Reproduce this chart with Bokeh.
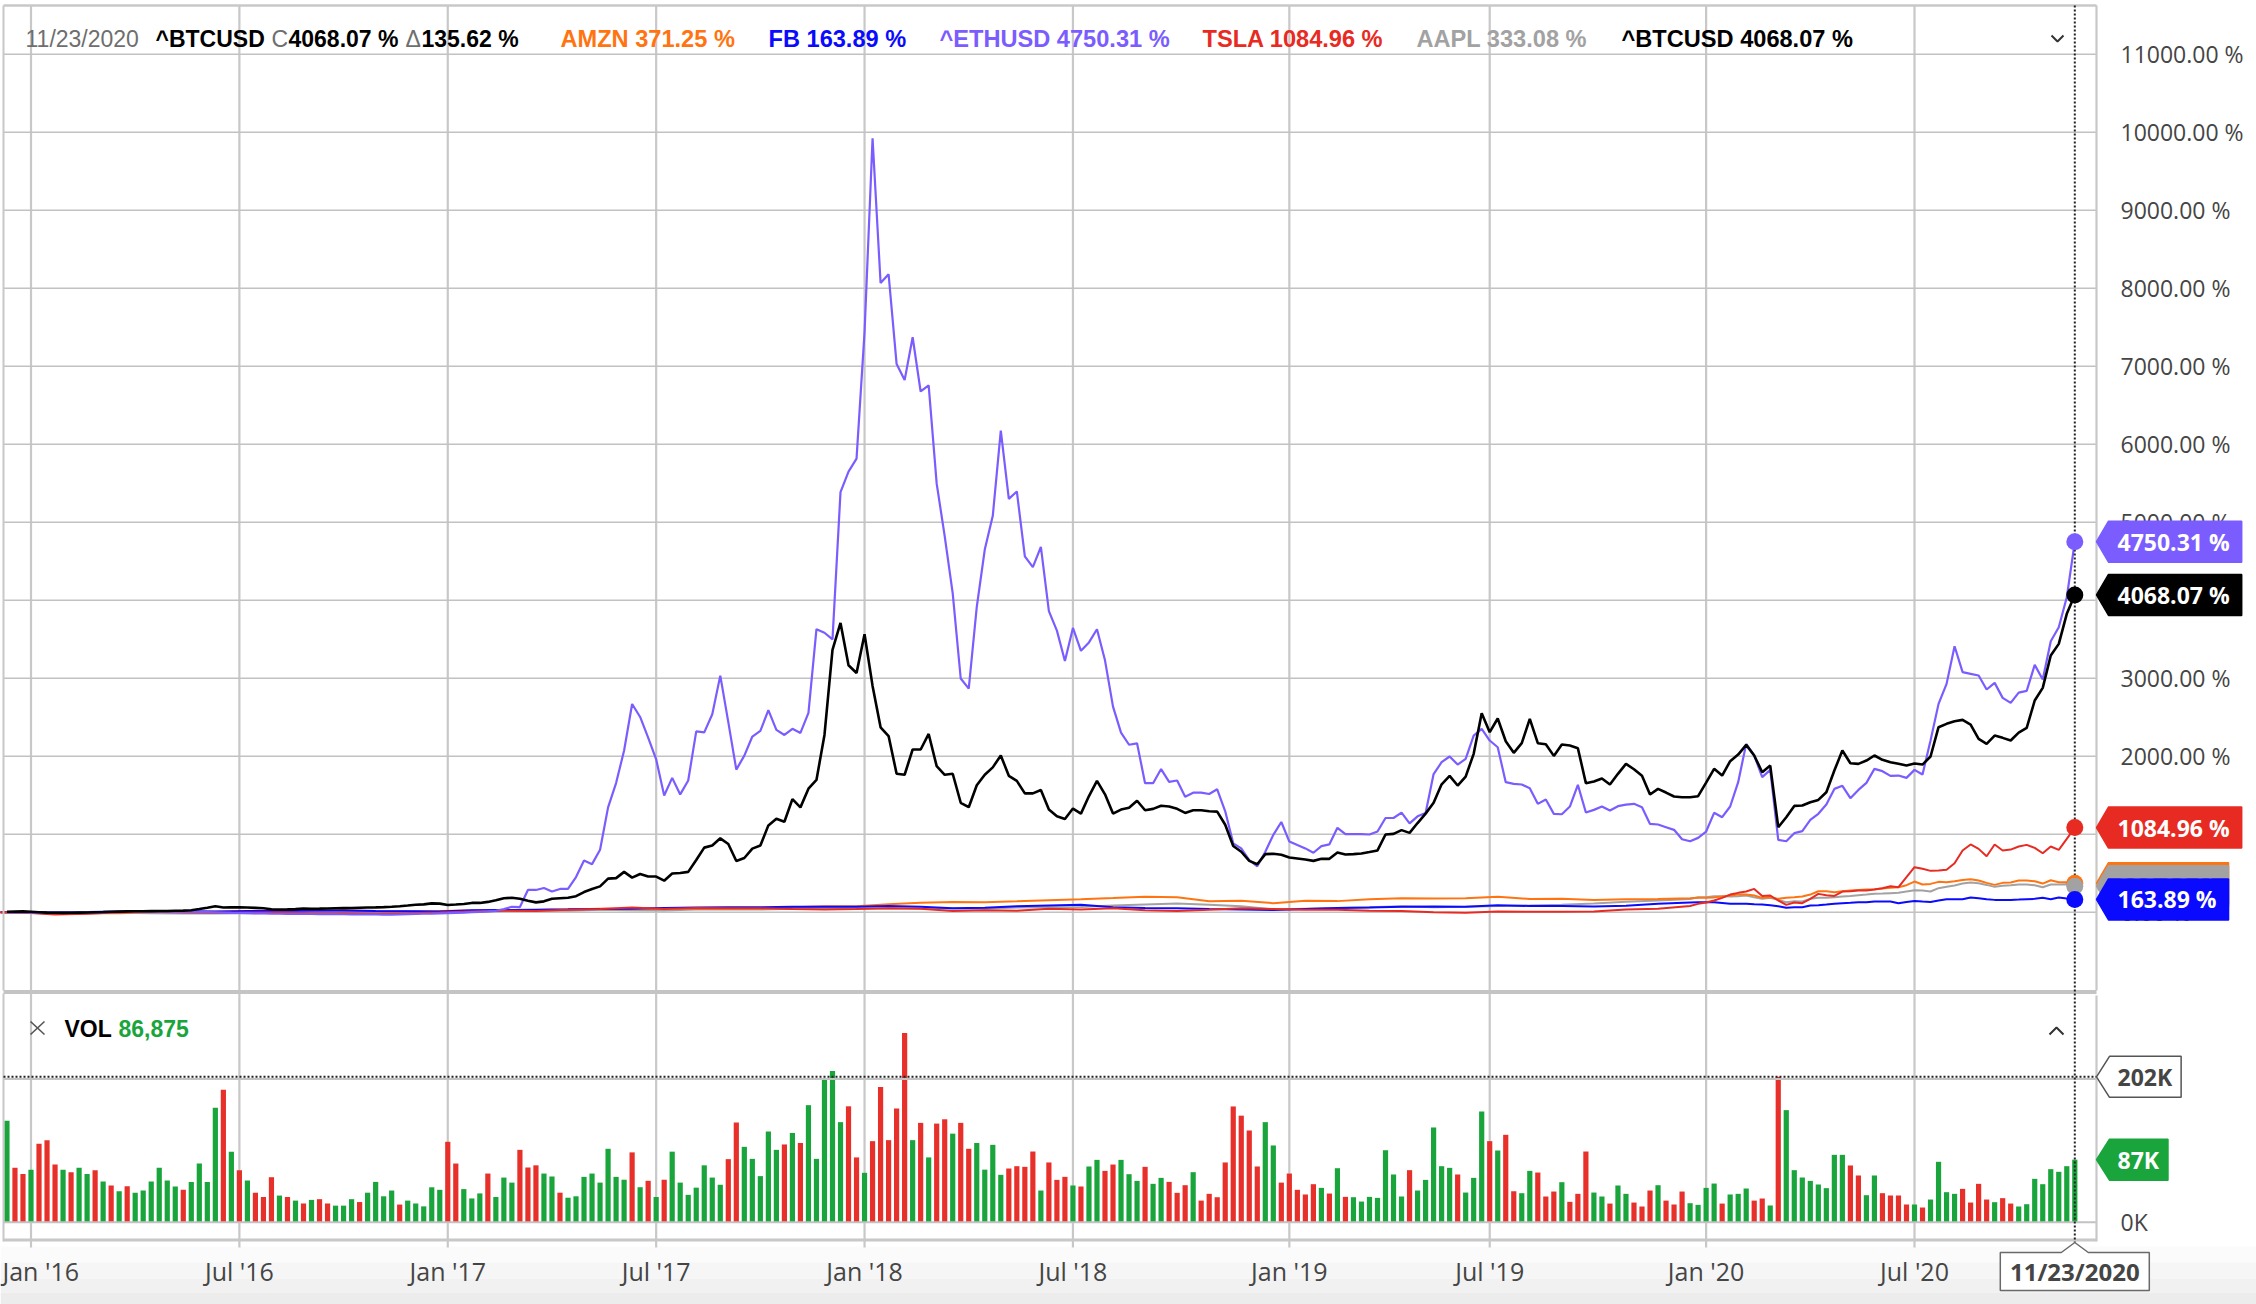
import numpy as np
import pandas as pd
from bokeh.plotting import figure
from bokeh.models import Range1d
from bokeh.core.properties import value
from bokeh.embed import file_html
from bokeh.resources import INLINE

# ------------------------------------------------------------------ data
LAST_WEEK = pd.Timestamp("2020-11-23")

# weekly % change, 2015-12-14 ... 2020-11-23
btc_pct = [
    5, 8, 10, 5, 0, -5, -8, -9, -8, -5, -3, 0, 2, 5, 8, 10, 12, 13, 14, 15, 16, 18, 20, 25, 40, 56,
    77, 60, 62, 64, 60, 56, 50, 38, 34, 36, 40, 47, 45, 46, 48, 50, 52, 53, 57, 60, 62, 65, 70, 77, 85, 95,
    100, 113, 110, 93, 99, 106, 119, 119, 132, 152, 179, 185, 172, 146, 126, 139, 172, 179, 185, 205,
    258, 298, 331, 430, 437, 517, 444, 490, 457, 457, 404, 497, 503, 517, 669, 828, 854, 947, 874, 656,
    695, 815, 854, 1113, 1199, 1159, 1450, 1344, 1583, 1695, 2272, 3364, 3709, 3166, 3066, 3563, 2901,
    2371, 2258, 1775, 1762, 2086, 2086, 2285, 1872,
    1762, 1775, 1403, 1346, 1628, 1762, 1857, 2009, 1749, 1684, 1524, 1524, 1567, 1316, 1229, 1195,
    1329, 1264, 1489, 1684, 1511, 1264, 1316, 1338, 1429, 1307, 1325, 1364, 1355, 1325, 1273, 1307,
    1307, 1294, 1290, 1121, 848, 775, 658, 615, 745, 749, 736, 701, 688, 675, 658, 684, 684, 766, 740,
    745, 753, 771, 792, 996, 1004, 1052, 1017, 1143, 1264, 1403,
    1640, 1748, 1624, 1739, 2030, 2551, 2308, 2483, 2192, 2043, 2167, 2479, 2167, 2154, 2004, 2150,
    2137, 2103, 1654, 1675, 1714, 1637, 1774, 1902, 1833, 1748, 1509, 1581, 1534, 1483, 1474, 1474,
    1487, 1662, 1838, 1752, 1936, 2021, 2145, 2009, 1795, 1880, 1090, 1218, 1363, 1368, 1410, 1440,
    1538, 1816, 2073, 1910, 1902, 1944, 2009, 1953, 1923, 1902, 1880, 1906, 1893, 1996, 2372, 2415, 2449,
    2466, 2406, 2222, 2158, 2265, 2235, 2201, 2303, 2363, 2714, 2876, 3291, 3440, 3825, 4068.07,
]
eth_pct = [
    -2, -3, -4, -5, -6, -6, -5, -5, -4, -3, -3, -2, -1, 0,
    2, 3, 4, 5, 5, 6, 6, 5, 4, 3, 2, 0, -2, -5, -8, -10, -12, -14, -15,
    -18, -20, -21, -22, -22, -23, -24, -25, -25, -26, -27, -28, -28, -29, -30, -30, -28, -25, -22,
    -20, -18, -15, -12, -8, -5, 0, 5, 10, 18, 40, 70, 66, 285, 285, 311, 265, 298, 298, 450, 662, 616,
    801, 1344, 1656, 2073, 2669, 2503, 2238, 1960, 1497, 1722, 1510, 1689, 2318, 2305, 2537, 3033,
    2437, 1828, 2007, 2252, 2325, 2590, 2338, 2272, 2351, 2298, 2556, 3629, 3583, 3497, 5385, 5649,
    5815, 7438, 9921, 8067, 8179, 7027, 6822, 7371, 6676, 6755, 5494,
    4822, 4087, 2996, 2866, 3913, 4649, 5082, 6173, 5299, 5394, 4563, 4424, 4684, 3861, 3610, 3221,
    3645, 3351, 3459, 3628, 3229, 2636, 2303, 2147, 2165, 1654, 1654, 1835, 1671, 1688, 1481, 1532,
    1532, 1515, 1576, 1294, 883, 818, 667, 589, 775, 991, 1156, 905, 861, 818, 762, 848, 870, 1082,
    1000, 1000, 1000, 996, 1035, 1208, 1208, 1277, 1139, 1229, 1273, 1771,
    1923, 1996, 1893, 1966, 2265, 2350, 2201, 2115, 1667, 1645, 1637, 1590, 1389, 1444, 1261, 1256,
    1355, 1632, 1278, 1312, 1355, 1303, 1359, 1380, 1389, 1346, 1132, 1124, 1090, 1056, 936, 910,
    953, 1034, 1274, 1218, 1355, 1667, 2158, 2009, 1731, 1825, 927, 910, 1013, 1039, 1184, 1261,
    1380, 1581, 1620, 1462, 1568, 1658, 1838, 1808, 1748, 1752, 1722, 1825, 1765, 2201, 2671, 2927, 3410,
    3077, 3056, 3034, 2855, 2940, 2748, 2684, 2816, 2838, 3171, 2983, 3474, 3654, 4038, 4750.31,
]
# stocks: four-weekly 2015-11-30 ... 2019-12-23, then weekly 2019-12-30 ... 2020-11-23
stock_dates = list(pd.date_range("2015-11-30", "2019-12-23", freq="28D")) + \
    list(pd.date_range("2019-12-30", "2020-11-23", freq="7D"))
amzn_pct = [
    0, -4, -18, -13, -12, -1, 6, 7, 10, 14, 16, 24, 16, 13, 15, 22, 27, 27, 34, 43, 43, 49, 48, 45,
    48, 64, 76, 75, 101, 121, 131, 127, 139, 154, 166, 181, 197, 191, 139, 146, 116, 146, 142, 166,
    178, 176, 179, 199, 169, 173, 158, 167, 169, 179,
    184, 184, 190, 201, 214, 226, 226, 214, 184, 192, 171, 184, 192, 201, 226, 269, 269, 257, 269, 278,
    286, 291, 295, 303, 312, 320, 346, 393, 355, 363, 389, 385, 397, 414, 423, 406, 376, 350, 376, 380,
    406, 406, 397, 367, 410, 385, 385, 371.25,
]
fb_pct = [
    0, -2, 0, 2, 8, 12, 12, 8, 15, 18, 22, 22, 14, 12, 10, 24, 29, 33, 37, 42, 45, 53, 60, 63, 62,
    70, 70, 70, 80, 70, 52, 58, 75, 85, 95, 65, 55, 52, 42, 35, 28, 42, 55, 60, 70, 72, 70, 88, 80,
    78, 72, 82, 107, 125,
    128, 128, 128, 118, 107, 107, 107, 102, 98, 90, 77, 56, 64, 64, 86, 90, 98, 107, 115, 120,
    128, 128, 137, 137, 137, 115, 132, 145, 137, 132, 150, 167, 167, 167, 188, 180, 167, 158, 158, 158,
    162, 167, 171, 184, 167, 188, 175, 163.89,
]
tsla_pct = [
    0, -5, -30, -20, -2, 5, -5, -8, -3, -3, -12, -12, -18, -12, -5, 10, 20, 15, 30, 40, 60, 40, 55,
    50, 50, 40, 35, 40, 50, 45, 15, 25, 20, 45, 35, 50, 25, 15, 30, 50, 40, 30, 30, 20, 15, 0, -8,
    10, 5, 5, 10, 35, 45, 80,
    107, 124, 150, 184, 226, 248, 265, 299, 209, 214, 150, 94, 124, 115, 171, 235, 218, 209, 265, 269,
    278, 278, 291, 308, 333, 320, 449, 577, 556, 530, 534, 543, 628, 791, 868, 812, 718, 868, 791, 803,
    842, 863, 825, 756, 842, 799, 940, 1084.96,
]
aapl_pct = [
    0, -8, -18, -15, -8, -12, -16, -17, -15, -8, -5, -2, -6, -5, -3, 3, 15, 18, 20, 30, 25, 22, 35,
    38, 35, 45, 50, 48, 52, 48, 48, 45, 60, 65, 68, 85, 100, 110, 95, 75, 35, 45, 55, 65, 75, 65, 70,
    80, 85, 95, 110, 135, 150, 170,
    192, 192, 205, 203, 201, 205, 214, 190, 171, 184, 158, 128, 141, 137, 171, 184, 184, 192, 201, 209,
    218, 226, 235, 239, 244, 248, 265, 282, 278, 265, 308, 325, 342, 367, 380, 372, 350, 325, 338, 346,
    355, 355, 346, 320, 355, 355, 359, 333.08,
]
# weekly volume (thousands), 2015-12-14 ... 2020-11-23
vol_k = [
    141, 75.5, 67, 73, 109, 114, 80, 73, 69.5, 75.5, 67, 72, 56.5, 51, 43, 50, 41, 44, 56.5, 75.5,
    58, 49.5, 45, 56, 81.5, 56, 159, 184, 98, 72, 58, 41, 35, 62.5, 37, 35, 30, 26, 31, 32,
    26, 23, 23, 32, 28, 41, 56, 36, 44, 24.5, 30, 26, 22, 48.5, 45, 111.7, 81.5, 46, 33, 40,
    67.6, 35, 62, 55, 100.5, 76, 79, 67.6, 63.5, 41, 34, 36, 63, 67.6, 55, 102, 63, 59, 97, 48.6,
    57.5, 35, 59, 98, 55, 38, 48, 79, 62, 52, 87.6, 138.5, 104.7, 88, 64, 126, 100.5, 108, 124, 110,
    162.6, 88, 200, 210, 139, 161, 90, 68.6, 112.6, 188, 114, 158, 263, 114, 138, 90, 137, 143, 123, 138,
    102, 110, 73, 107.5,
    65.8, 74.6, 77.8, 76.9, 98.2, 44, 83, 58.8, 63, 51, 49.6, 77.4, 86.6, 71.3, 80.1, 86.6, 66.7, 57.4,
    76.9, 53.3, 61.6, 56, 40.8, 51.4, 69.5, 30, 39.4, 34.7, 83, 160.8, 148, 127.4, 77.4, 139, 106.6,
    55, 67.6, 45, 38.5, 52.8, 47.7, 39.8, 75, 35.2, 34.7, 28.7, 35.2, 33.8, 100, 66.3, 35.7, 72.3, 44,
    58.8, 131.6, 77.8, 75.5, 66.3, 41.2, 61.6, 153.8, 112.6, 99.6, 121.4, 43, 40.3, 71.3, 69, 35.7,
    42.6, 55.6, 28.3, 39.4, 98.2, 41.2, 35.7, 25.9, 51, 39.4, 27.3, 21.8, 44, 51.4, 30, 24.6, 42.6,
    26.4, 24.1, 47.7, 53.7, 25.9, 38.5, 39.4, 46.8, 30, 32.9, 23.2, 202, 155.7, 72.3, 62.1, 57.4, 52.4,
    47.3, 93.6, 93.6, 78.8, 64.9, 37.5, 64.9, 40.3, 37.1, 37.1, 24.6, 24.6, 20.4, 31.5, 83.9, 41.7,
    39.4, 46.3, 27.3, 53.3, 31.5, 27.8, 33.4, 25.9, 21.8, 25, 60.2, 52.8, 73.7, 70, 77.8, 86.875,
]
vol_dir = (
    "GRRGRRRGRGGRGRGRGGGGGGRGGGGRGRGRRRGRGRGRRGGGRGGGGRGGGGGRRGGGRGGGRRRGGRGGGGGGGGRG"
    "RGRGGGGGGGRRGGGGGRGRGGGGGRRGRRRRRGRGRRGRRGGG"
    "GRRRRGRRRGRGGRRGGGRGGRRRGRRRRRRRRGGRRRRRGRGRGGGGGGGRGGGGGRGGGRGRRGGRR"
    "RGRRRGGRGGRRRGRRRGGGGRGGGRRGRGGGGGGGGRRGGRRRRGRGGGGRRRRGRRGGGGGGGG"
)
btc_change = "135.62 %"
cursor_vol_k = 202
pct_ticks = list(range(0, 11001, 1000))
date_ticks = ["2016-01-04", "2016-07-04", "2017-01-02", "2017-07-03", "2018-01-01",
              "2018-07-02", "2019-01-07", "2019-07-01", "2020-01-06", "2020-07-06"]
date_tick_labels = ["Jan '16", "Jul '16", "Jan '17", "Jul '17", "Jan '18",
                    "Jul '18", "Jan '19", "Jul '19", "Jan '20", "Jul '20"]

# ------------------------------------------------------------------ layout constants
W, H = 2256, 1304
ANCHOR_DATE = pd.Timestamp("2016-01-04")
ANCHOR_PX = 30.5
PX_PER_DAY = 8.0149 / 7
ZERO_PCT_PX, PX_PER_PCT = 911.7, 0.078
ZERO_VOL_PX, PX_PER_K = 1221.7, 0.7198
PANE_L, PANE_R = 3, 2096
DAY_MS = 86400000.0

C_BTC, C_ETH, C_AMZN = "#000000", "#7b5cff", "#ff7410"
C_FB, C_TSLA, C_AAPL = "#0a0aff", "#e82b22", "#a2a2a2"
C_UP, C_DOWN = "#19a53c", "#e8302a"
GRID = "#c8c8c8"
TXT = "#454545"
OS = value("Open Sans")
LS = value("Liberation Sans")


def ms(ts):
    return pd.Timestamp(ts).value / 1e6


def px_to_ms(px):
    return ms(ANCHOR_DATE) + (px - ANCHOR_PX) / PX_PER_DAY * DAY_MS


def dates_back(n, step):
    return [ms(LAST_WEEK) - step * (n - 1 - i) * DAY_MS for i in range(n)]


last_ms = ms(LAST_WEEK)
last_px = ANCHOR_PX + PX_PER_DAY * (LAST_WEEK - ANCHOR_DATE).days
stock_ms = [ms(d) for d in stock_dates]

p = figure(width=W, height=H, output_backend="svg", toolbar_location=None,
           x_axis_location=None, y_axis_location=None, title=None,
           x_range=Range1d(px_to_ms(0), px_to_ms(W)),
           y_range=Range1d((ZERO_PCT_PX - H) / PX_PER_PCT, ZERO_PCT_PX / PX_PER_PCT),
           min_border=0, outline_line_color=None,
           background_fill_color="white", border_fill_color="white")
p.grid.visible = False
p.extra_x_ranges = {"px": Range1d(0, W)}
p.extra_y_ranges = {"py": Range1d(H, 0),
                    "vol": Range1d((ZERO_VOL_PX - H) / PX_PER_K, ZERO_VOL_PX / PX_PER_K)}

# bottom shading
for y0, y1, c in [(1246, 1262, "#fbfbfb"), (1262, 1278, "#f6f6f6"), (1278, 1292, "#f1f1f1"),
                  (1292, 1305, "#ececec")]:
    p.quad(left=0, right=W, top=y0, bottom=y1, x_range_name="px", y_range_name="py",
           fill_color=c, line_color=None)

# grid
tick_ms = [ms(d) for d in date_ticks]
p.segment(x0=tick_ms, x1=tick_ms, y0=[5] * len(tick_ms), y1=[990] * len(tick_ms),
          y_range_name="py", line_color=GRID, line_width=2.2)
p.segment(x0=tick_ms, x1=tick_ms, y0=[993] * len(tick_ms), y1=[1247] * len(tick_ms),
          y_range_name="py", line_color=GRID, line_width=2.2)
p.segment(x0=[PANE_L] * len(pct_ticks), x1=[PANE_R] * len(pct_ticks), y0=pct_ticks, y1=pct_ticks,
          x_range_name="px", line_color="#c2c2c2", line_width=1.6)

# volume
wk = dates_back(len(vol_k), 7)
vcol = [C_UP if d == "G" else C_DOWN for d in vol_dir[:len(vol_k)]]
vcol += [C_UP] * (len(vol_k) - len(vcol))
p.vbar(x=wk, top=vol_k, bottom=0, width=5.2 / PX_PER_DAY * DAY_MS, y_range_name="vol",
       fill_color=vcol, line_color=None)
p.segment(x0=[PANE_L], x1=[PANE_R], y0=[0], y1=[0], x_range_name="px", y_range_name="vol",
          line_color="#c2c2c2", line_width=2)
p.segment(x0=[PANE_L], x1=[PANE_R], y0=[cursor_vol_k - 2.2 / PX_PER_K], y1=[cursor_vol_k - 2.2 / PX_PER_K],
          x_range_name="px", y_range_name="vol", line_color="#c2c2c2", line_width=2)

# series
p.line(stock_ms[:len(aapl_pct)], aapl_pct, line_color=C_AAPL, line_width=2)
p.line(stock_ms[:len(amzn_pct)], amzn_pct, line_color=C_AMZN, line_width=2)
p.line(stock_ms[:len(fb_pct)], fb_pct, line_color=C_FB, line_width=2)
p.line(stock_ms[:len(tsla_pct)], tsla_pct, line_color=C_TSLA, line_width=2)
p.line(dates_back(len(eth_pct), 7), eth_pct, line_color=C_ETH, line_width=2.2)
p.line(dates_back(len(btc_pct), 7), btc_pct, line_color=C_BTC, line_width=2.6)

# pane borders
p.segment(x0=[PANE_L], x1=[PANE_R], y0=[5], y1=[5], x_range_name="px", y_range_name="py",
          line_color=GRID, line_width=2.5)
p.segment(x0=[PANE_L, PANE_L], x1=[PANE_L, PANE_L], y0=[5, 993], y1=[990, 1241],
          x_range_name="px", y_range_name="py", line_color=GRID, line_width=2)
p.quad(left=PANE_L, right=PANE_R, top=989.5, bottom=993.5, x_range_name="px", y_range_name="py",
       fill_color="#c4c4c4", line_color=None)
p.quad(left=PANE_L, right=PANE_R, top=1238, bottom=1241, x_range_name="px", y_range_name="py",
       fill_color="#c8c8c8", line_color=None)
p.segment(x0=[PANE_R, PANE_R], x1=[PANE_R, PANE_R], y0=[5, 995], y1=[990, 1241],
          x_range_name="px", y_range_name="py", line_color=GRID, line_width=2.2)

# crosshair
p.segment(x0=[last_ms], x1=[last_ms], y0=[5], y1=[1242], y_range_name="py",
          line_color="#222222", line_width=2, line_dash="2 2")
p.segment(x0=[PANE_L], x1=[PANE_R], y0=[cursor_vol_k], y1=[cursor_vol_k], x_range_name="px",
          y_range_name="vol", line_color="#222222", line_width=2, line_dash="2 2")

# end dots
ends = [(amzn_pct[-1], C_AMZN), (aapl_pct[-1], C_AAPL), (fb_pct[-1], C_FB),
        (tsla_pct[-1], C_TSLA), (eth_pct[-1], C_ETH), (btc_pct[-1], C_BTC)]
p.scatter(x=[last_ms] * len(ends), y=[e[0] for e in ends], size=17,
          fill_color=[e[1] for e in ends], line_color=None)

# right axis labels
p.text(x=[2120] * len(pct_ticks), y=pct_ticks, text=[f"{t:.2f} %" for t in pct_ticks],
       x_range_name="px", text_font=OS, text_font_size=value("23px"), text_color=TXT,
       text_align="left", text_baseline="middle")
p.text(x=[2120], y=[0], text=["0K"], x_range_name="px", y_range_name="vol", text_font=OS,
       text_font_size=value("23px"), text_color=TXT, text_align="left", text_baseline="middle")

EM = {"0": .572, "1": .572, "2": .572, "3": .572, "4": .572, "5": .572, "6": .572, "7": .572,
      "8": .572, "9": .572, ".": .285, " ": .26, "%": .901, "K": .659}


def text_w(s, size=23):
    return sum(EM.get(ch, .6) for ch in s) * size


def tag(v, label, fill, rng="default", per=PX_PER_PCT, tcol="white", line=None, body=2108, pad=12):
    half = 20.5 / per
    right = 2117 + text_w(label) + pad
    p.patch([PANE_R, body, right, right, body], [v, v + half, v + half, v - half, v - half],
            x_range_name="px", y_range_name=rng, fill_color=fill,
            line_color=line if line else fill, line_width=1.5)
    p.text(x=[2117], y=[v], text=[label], x_range_name="px", y_range_name=rng, text_font=OS,
           text_font_size=value("23px"), text_font_style="bold", text_color=tcol,
           text_align="left", text_baseline="middle")


for v, c in [(amzn_pct[-1], C_AMZN), (aapl_pct[-1], C_AAPL), (fb_pct[-1], C_FB),
             (tsla_pct[-1], C_TSLA), (btc_pct[-1], C_BTC), (eth_pct[-1], C_ETH)]:
    tag(v, f"{v:.2f} %", c)

tag(cursor_vol_k, f"{cursor_vol_k}K", "white", rng="vol", per=PX_PER_K, tcol=TXT, line="#555555",
    body=2109, pad=9)
tag(vol_k[-1], f"{vol_k[-1]:.0f}K", C_UP, rng="vol", per=PX_PER_K, body=2109, pad=9)

# x axis labels (first one kept inside the left edge)
p.text(x=tick_ms[1:], y=[1270] * (len(tick_ms) - 1), text=date_tick_labels[1:], y_range_name="py",
       text_font=OS, text_font_size=value("25px"), text_color=TXT,
       text_align="center", text_baseline="middle")
p.text(x=[2], y=[1270], text=date_tick_labels[:1], x_range_name="px", y_range_name="py",
       text_font=OS, text_font_size=value("25px"), text_color=TXT,
       text_align="left", text_baseline="middle")

# date tag
tx = last_px
p.patch([tx - 74.5, tx - 13.5, tx, tx + 13.5, tx + 74.5, tx + 74.5, tx - 74.5],
        [1252, 1252, 1242, 1252, 1252, 1290, 1290], x_range_name="px", y_range_name="py",
        fill_color="white", line_color="#6a6a6a", line_width=1.5)
p.text(x=[tx], y=[1271], text=[LAST_WEEK.strftime("%m/%d/%Y")], x_range_name="px",
       y_range_name="py", text_font=OS, text_font_size=value("24px"), text_font_style="bold",
       text_color=TXT, text_align="center", text_baseline="middle")

# header legend: (text, x, colour, weight, size)
GRAY_T = "#6e6e6e"
header = [
    (LAST_WEEK.strftime("%m/%d/%Y"), 25, GRAY_T, "normal", "23px"),
    ("^BTCUSD", 155, C_BTC, "bold", "23px"),
    ("C", 271, GRAY_T, "normal", "23px"),
    (f"{btc_pct[-1]:.2f} %", 288, C_BTC, "bold", "23px"),
    ("Δ", 405, GRAY_T, "normal", "23px"),
    (btc_change, 421, C_BTC, "bold", "23px"),
    (f"AMZN {amzn_pct[-1]:.2f} %", 560, C_AMZN, "bold", "23.6px"),
    (f"FB {fb_pct[-1]:.2f} %", 768, C_FB, "bold", "23.6px"),
    (f"^ETHUSD {eth_pct[-1]:.2f} %", 939, C_ETH, "bold", "23.6px"),
    (f"TSLA {tsla_pct[-1]:.2f} %", 1202, C_TSLA, "bold", "23.6px"),
    (f"AAPL {aapl_pct[-1]:.2f} %", 1416, C_AAPL, "bold", "23.6px"),
    (f"^BTCUSD {btc_pct[-1]:.2f} %", 1621, C_BTC, "bold", "23.6px"),
]
for s, x, c, st, fs in header:
    p.text(x=[x], y=[38], text=[s], x_range_name="px", y_range_name="py", text_font=LS,
           text_font_size=value(fs), text_font_style=st, text_color=c,
           text_align="left", text_baseline="middle")

# volume legend
p.multi_line(xs=[[30, 44], [30, 44]], ys=[[1021, 1034], [1034, 1021]], x_range_name="px",
             y_range_name="py", line_color="#555555", line_width=1.6)
p.text(x=[64], y=[1028], text=["VOL"], x_range_name="px", y_range_name="py", text_font=LS,
       text_font_size=value("23px"), text_font_style="bold", text_color="#000000",
       text_align="left", text_baseline="middle")
p.text(x=[118], y=[1028], text=[f"{vol_k[-1] * 1000:,.0f}"], x_range_name="px", y_range_name="py",
       text_font=LS, text_font_size=value("23px"), text_font_style="bold", text_color=C_UP,
       text_align="left", text_baseline="middle")

# chevrons
p.multi_line(xs=[[2051, 2057, 2063], [2049, 2056, 2063]], ys=[[35, 41, 35], [1034, 1027, 1034]],
             x_range_name="px", y_range_name="py", line_color="#333333", line_width=2)

open("out.html", "w").write(file_html(p, INLINE))
